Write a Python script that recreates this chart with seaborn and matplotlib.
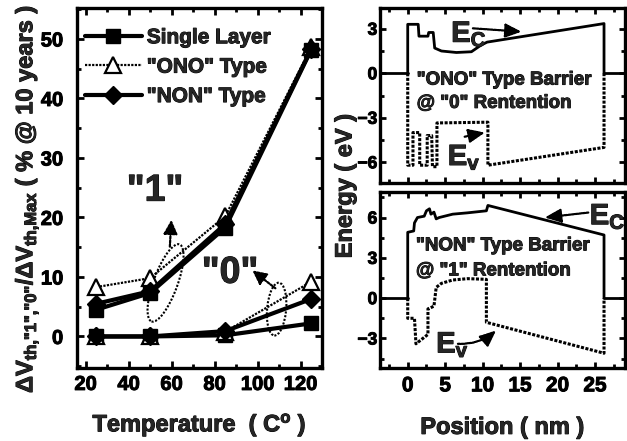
import matplotlib
matplotlib.use("Agg")
import matplotlib.pyplot as plt
import matplotlib.patheffects as pe
import seaborn as sns
from matplotlib.patches import Ellipse
from matplotlib.transforms import ScaledTranslation
from matplotlib.ticker import MultipleLocator

# ---------------- data: retention vs temperature ----------------
temperature = [25, 50, 85, 125]
series_names = ['Single Layer', '"ONO" Type', '"NON" Type']
single_1 = [4.5, 7.3, 18.3, 48.2]
single_0 = [0.0, 0.0, 0.2, 2.2]
ono_1 = [8.3, 9.8, 20.2, 48.6]
ono_0 = [0.0, 0.0, 0.8, 9.2]
non_1 = [5.5, 7.6, 18.9, 48.3]
non_0 = [0.0, 0.0, 0.9, 6.3]
temp_ticks = [20, 40, 60, 80, 100, 120]
dv_ticks = [0, 10, 20, 30, 40, 50]

# ---------------- data: band diagrams (position nm, energy eV) ----------------
ono_ec_x = [0, 0, 1.4, 1.5, 2.7, 2.8, 3.4, 3.6, 4.5, 6.5, 8.5, 9.8, 10.6, 26.2, 26.2]
ono_ec_y = [0, 3.3, 3.3, 2.5, 2.5, 2.75, 2.75, 1.7, 1.5, 1.4, 1.45, 1.9, 2.1, 3.35, 0]
ono_ev_x = [0, 0, 0.7, 0.7, 1.6, 1.6, 2.6, 2.6, 3.2, 3.3, 3.9, 3.9, 10.7, 10.7, 26.2, 26.2]
ono_ev_y = [0, -6.2, -6.2, -4.0, -4.0, -6.2, -6.2, -4.2, -4.2, -6.3, -6.3, -3.35, -3.3, -6.2, -5.0, 0]
non_ec_x = [0, 0, 0.8, 0.9, 1.3, 2.2, 2.5, 2.9, 3.1, 3.5, 3.8, 4.2, 6.0, 8.0, 10.5, 10.7, 26.2, 26.2]
non_ec_y = [0, 4.9, 5.0, 5.6, 6.0, 6.1, 6.5, 6.65, 6.25, 6.4, 5.9, 6.0, 6.25, 6.35, 6.5, 6.9, 4.7, 0]
non_ev_x = [0, 0, 0.9, 1.1, 2.7, 2.7, 3.5, 3.8, 4.5, 6.0, 8.0, 10.5, 10.5, 26.2, 26.2]
non_ev_y = [0, -1.5, -1.5, -3.4, -2.7, -0.8, -0.6, 0.8, 1.1, 1.35, 1.45, 1.4, -1.8, -4.1, 0]
fermi_left_x = [-5, 0]
fermi_right_x = [26.2, 31]
fermi_y = [0, 0]
pos_ticks = [0, 5, 10, 15, 20, 25]
ono_e_ticks = [-6, -3, 0, 3]
non_e_ticks = [-3, 0, 3, 6]

# ---------------- style ----------------
sns.set_theme(style="ticks")
plt.rcParams.update({
    "font.family": ["Liberation Sans", "DejaVu Sans"],
    "font.weight": "bold",
    "axes.labelweight": "bold",
    "mathtext.fontset": "custom",
    "mathtext.rm": "Liberation Sans:bold",
    "mathtext.it": "Liberation Sans:bold",
    "mathtext.bf": "Liberation Sans:bold",
    "axes.linewidth": 2.4,
    "axes.edgecolor": "black",
    "xtick.direction": "in",
    "ytick.direction": "in",
    "xtick.color": "black",
    "ytick.color": "black",
})

fig = plt.figure(figsize=(6.27, 4.41), dpi=100)
ax1 = fig.add_axes([77 / 627, 1 - 368 / 441, 245 / 627, 360 / 441])
ax2 = fig.add_axes([380 / 627, 1 - 183 / 441, 245 / 627, 175 / 441])
ax3 = fig.add_axes([380 / 627, 1 - 368 / 441, 245 / 627, 176 / 441])

# ---------------- left panel ----------------
styles = [
    dict(marker="s", linestyle="-", linewidth=3.0, markersize=10,
         markerfacecolor="black", markeredgecolor="black", markeredgewidth=1.0),
    dict(marker="^", linestyle=(0, (1, 0.6)), linewidth=1.6, markersize=11,
         markerfacecolor="white", markeredgecolor="black", markeredgewidth=1.6),
    dict(marker="D", linestyle="-", linewidth=3.0, markersize=9,
         markerfacecolor="black", markeredgecolor="black", markeredgewidth=1.0),
]
pairs = [(single_1, single_0), (ono_1, ono_0), (non_1, non_0)]
for name, (v1, v0), st in zip(series_names, pairs, styles):
    sns.lineplot(x=temperature, y=v0, ax=ax1, color="black", legend=False, **st)
    sns.lineplot(x=temperature, y=v1, ax=ax1, color="black", label=name, **st)

ax1.set_xlim(16, 130)
ax1.set_ylim(-5.3, 55.2)
ax1.set_xticks(temp_ticks)
ax1.set_yticks(dv_ticks)
ax1.xaxis.set_minor_locator(MultipleLocator(10))
ax1.yaxis.set_minor_locator(MultipleLocator(5))
ax1.tick_params(which="both", top=True, right=True, width=2.0)
ax1.tick_params(which="major", length=5)
ax1.tick_params(which="minor", length=3)
ax1.tick_params(axis="x", labelsize=14.5, pad=5)
ax1.tick_params(axis="y", labelsize=14.5, pad=10)

h, l = ax1.get_legend_handles_labels()
ax1.legend(h, l, loc="upper left", bbox_to_anchor=(0.0, 0.967), frameon=False,
           handlelength=2.7, handletextpad=0.25, labelspacing=0.5,
           borderpad=0.3, borderaxespad=0.1, prop={"weight": "bold", "size": 15})

ax1.set_xlabel("Temperature  ( C$^{o}$ )", fontsize=17)
ax1.xaxis.set_label_coords(0.5, -0.12)
ax1.set_ylabel(r'$\Delta V_{\text{th,"1","0"}}/\Delta V_{\text{th,Max}}$ ( % @ 10 years )', fontsize=17)
ax1.yaxis.set_label_coords(-0.148, 0.47)

ax1.text(52.3, 24.5, '"1"', fontsize=27, fontweight="bold", ha="center", va="center")
ax1.text(87.2, 10.7, '"0"', fontsize=27, fontweight="bold", ha="center", va="center")

for (cx, cy, w, hh, ang) in [(57.2, 9.0, 0.24, 0.82, -20), (108.9, 4.6, 0.19, 0.53, -5)]:
    tr = fig.dpi_scale_trans + ScaledTranslation(cx, cy, ax1.transData)
    ax1.add_patch(Ellipse((0, 0), w, hh, angle=ang, transform=tr, fill=False,
                          edgecolor="black", linewidth=1.5, linestyle=(0, (1, 0.8))))

arrow_kw = dict(arrowstyle="-|>,head_length=0.6,head_width=0.3", color="black",
                linewidth=1.6, linestyle=(0, (1, 0.8)), shrinkA=0, shrinkB=0,
                mutation_scale=14)
ax1.annotate("", xy=(59.9, 19.6), xytext=(59.2, 15.1), arrowprops=arrow_kw)
ax1.annotate("", xy=(97.6, 11.1), xytext=(108.3, 8.1), arrowprops=arrow_kw)

# ---------------- right panels ----------------
def band(ax, ecx, ecy, evx, evy):
    sns.lineplot(x=fermi_left_x, y=fermi_y, ax=ax, color="black", linewidth=2.0,
                 sort=False, estimator=None, legend=False)
    sns.lineplot(x=fermi_right_x, y=fermi_y, ax=ax, color="black", linewidth=2.0,
                 sort=False, estimator=None, legend=False)
    sns.lineplot(x=ecx, y=ecy, ax=ax, color="black", linewidth=2.0,
                 sort=False, estimator=None, legend=False)
    sns.lineplot(x=evx, y=evy, ax=ax, color="black", linewidth=2.2,
                 linestyle=(0, (1, 0.5)), sort=False, estimator=None, legend=False)

band(ax2, ono_ec_x, ono_ec_y, ono_ev_x, ono_ev_y)
band(ax3, non_ec_x, non_ec_y, non_ev_x, non_ev_y)

for ax, lim, ticks in [(ax2, (-7.4, 4.4), ono_e_ticks), (ax3, (-5.2, 7.9), non_e_ticks)]:
    ax.set_xlim(-3.7, 29)
    ax.set_ylim(*lim)
    ax.set_xticks(pos_ticks)
    ax.set_yticks(ticks)
    ax.xaxis.set_minor_locator(MultipleLocator(2.5))
    ax.yaxis.set_minor_locator(MultipleLocator(1.5))
    ax.tick_params(which="both", top=True, right=True, width=2.0)
    ax.tick_params(which="major", length=4)
    ax.tick_params(which="minor", length=3)
    ax.tick_params(axis="y", labelsize=12.5, pad=2)
    ax.tick_params(axis="x", labelsize=15, pad=6)
    ax.set_xlabel("")
    ax.set_ylabel("")

ax2.tick_params(axis="x", labelbottom=False)
ax3.set_xlabel("Position ( nm )", fontsize=17)
ax3.xaxis.set_label_coords(0.5, -0.272)
fig.text(345 / 627, 1 - 186 / 441, "Energy ( eV )", rotation=90, fontsize=17,
         fontweight="bold", ha="center", va="center")

ax2.text(1.2, -0.46, '"ONO" Type Barrier', fontsize=13.5, fontweight="bold", ha="left", va="center")
ax2.text(1.2, -2.03, '@ "0" Rentention', fontsize=13.5, fontweight="bold", ha="left", va="center")
ax3.text(1.1, 3.89, '"NON" Type Barrier', fontsize=13.5, fontweight="bold", ha="left", va="center")
ax3.text(1.1, 2.03, '@ "1" Rentention', fontsize=13.5, fontweight="bold", ha="left", va="center")

ax2.text(5.8, 2.12, "$E_C$", fontsize=21, ha="left", va="baseline")
ax2.text(5.35, -6.19, "$E_v$", fontsize=21, ha="left", va="baseline")
ax3.text(24.3, 5.5, "$E_C$", fontsize=21, ha="left", va="baseline")
ax3.text(3.8, -4.04, "$E_v$", fontsize=21, ha="left", va="baseline")

band_arrow = dict(arrowstyle="-|>,head_length=0.7,head_width=0.3", color="black",
                  linewidth=1.6, linestyle=(0, (1, 0.6)), shrinkA=0, shrinkB=0,
                  mutation_scale=14)
ax2.annotate("", xy=(15.2, 2.8), xytext=(8.7, 3.03), arrowprops=band_arrow)
ax2.annotate("", xy=(10.3, -4.0), xytext=(7.6, -4.28), arrowprops=band_arrow)
ax3.annotate("", xy=(18.3, 6.0), xytext=(24.1, 6.37), arrowprops=band_arrow)
ax3.annotate("", xy=(11.8, -2.4), xytext=(6.7, -3.4),
             arrowprops=dict(band_arrow, connectionstyle="arc3,rad=0.2"))

# heavier, scan-like text strokes
stroke = [pe.withStroke(linewidth=0.7, foreground="black")]
for t in fig.findobj(matplotlib.text.Text):
    if t.get_text():
        t.set_path_effects(stroke)
for ax in (ax1, ax2, ax3):
    for t in ax.get_xticklabels() + ax.get_yticklabels():
        t.set_path_effects(stroke)

fig.savefig("out.png", dpi=100)
